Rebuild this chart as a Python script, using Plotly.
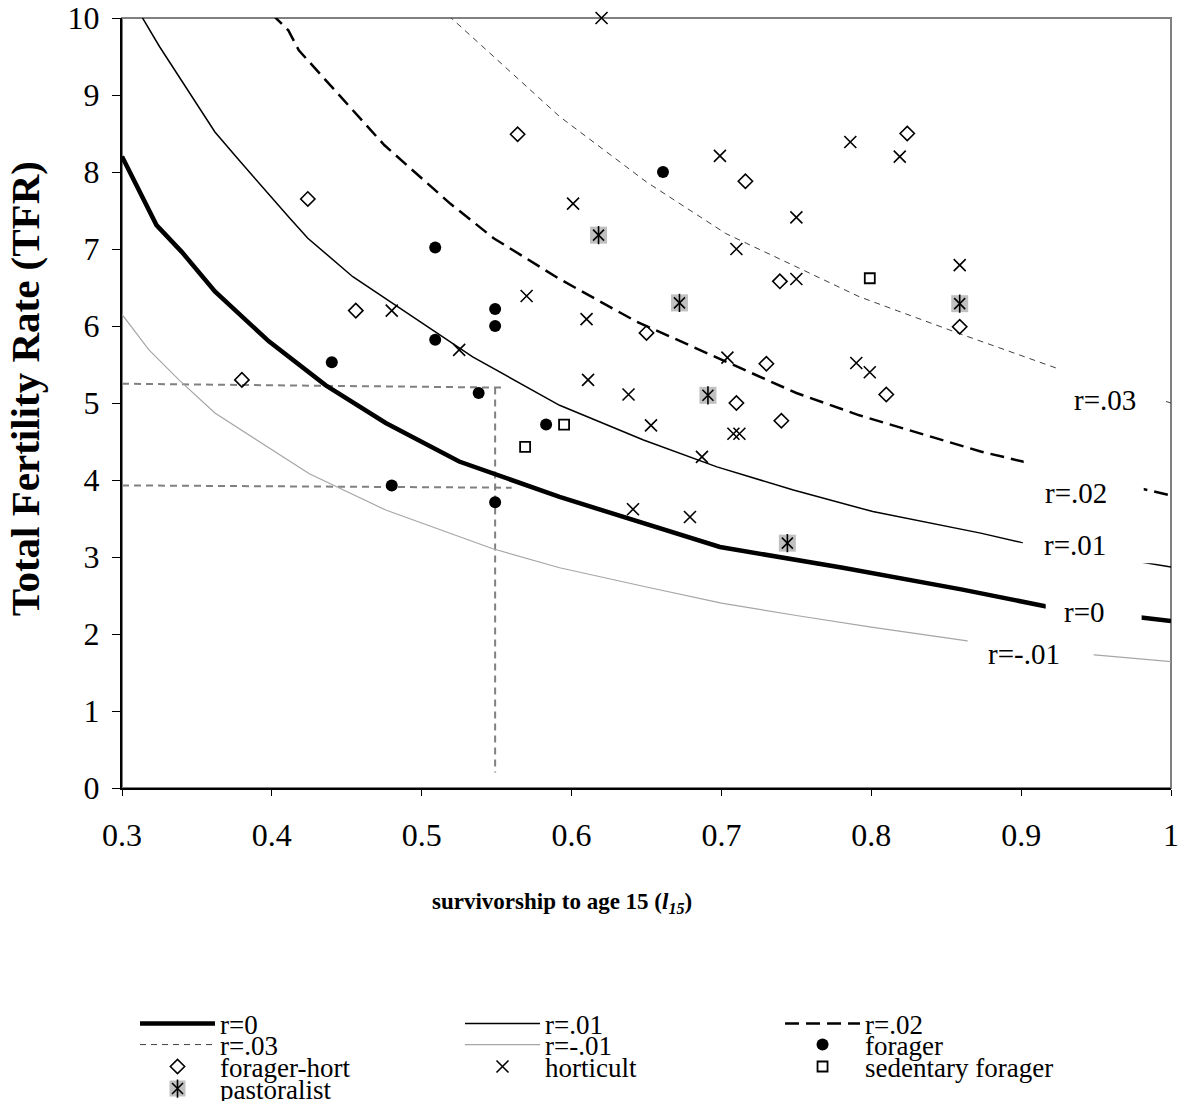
import plotly.graph_objects as go

# ---------------- data: iso-growth curves (TFR vs l15) ----------------
l15_r0 = [0.30, 0.323, 0.340, 0.362, 0.398, 0.436, 0.476, 0.525, 0.592, 0.641, 0.699, 0.781, 0.860, 0.916, 1.0]
tfr_r0 = [8.20, 7.31, 6.96, 6.45, 5.80, 5.23, 4.74, 4.24, 3.78, 3.48, 3.13, 2.86, 2.58, 2.36, 2.17]

l15_r01 = [0.30, 0.314, 0.325, 0.362, 0.376, 0.412, 0.424, 0.454, 0.534, 0.592, 0.648, 0.697, 0.748, 0.801, 0.873, 0.900, 1.0]
tfr_r01 = [10.45, 10.0, 9.63, 8.52, 8.20, 7.40, 7.14, 6.64, 5.60, 4.97, 4.52, 4.17, 3.87, 3.59, 3.31, 3.19, 2.87]

l15_r02 = [0.400, 0.411, 0.418, 0.450, 0.475, 0.519, 0.548, 0.592, 0.643, 0.697, 0.750, 0.792, 0.873, 0.901, 1.0]
tfr_r02 = [10.05, 9.84, 9.58, 8.89, 8.35, 7.59, 7.14, 6.61, 6.06, 5.59, 5.13, 4.84, 4.37, 4.24, 3.80]

l15_r03 = [0.518, 0.592, 0.650, 0.703, 0.752, 0.792, 0.859, 0.924, 1.0]
tfr_r03 = [10.03, 8.72, 7.87, 7.20, 6.75, 6.38, 5.90, 5.45, 5.00]

l15_rm01 = [0.30, 0.318, 0.338, 0.362, 0.425, 0.476, 0.547, 0.592, 0.650, 0.700, 0.750, 0.800, 0.864, 0.949, 1.0]
tfr_rm01 = [6.15, 5.69, 5.30, 4.87, 4.08, 3.61, 3.11, 2.86, 2.61, 2.40, 2.24, 2.09, 1.91, 1.73, 1.64]

# lookup (reading) lines at l15 = 0.55
guide1_x = [0.30, 0.554]
guide1_y = [5.25, 5.20]
guide2_x = [0.30, 0.560]
guide2_y = [3.93, 3.90]
guide3_x = [0.549, 0.549]
guide3_y = [5.20, 0.20]

# ---------------- data: populations ----------------
forager_x = [0.509, 0.549, 0.549, 0.509, 0.440, 0.538, 0.583, 0.480, 0.549, 0.661]
forager_y = [7.02, 6.22, 6.00, 5.82, 5.53, 5.13, 4.72, 3.93, 3.71, 8.00]

forhort_x = [0.424, 0.456, 0.380, 0.564, 0.716, 0.824, 0.739, 0.859, 0.650, 0.730, 0.810, 0.710, 0.740]
forhort_y = [7.65, 6.20, 5.30, 8.49, 7.88, 8.50, 6.58, 5.99, 5.91, 5.51, 5.11, 5.00, 4.77]

hort_x = [0.620, 0.699, 0.786, 0.819, 0.601, 0.750, 0.710, 0.750, 0.859, 0.570, 0.610, 0.704,
          0.790, 0.799, 0.611, 0.638, 0.653, 0.708, 0.712, 0.687, 0.641, 0.679, 0.480, 0.525]
hort_y = [10.0, 8.21, 8.39, 8.20, 7.59, 7.41, 7.00, 6.61, 6.79, 6.39, 6.09, 5.59,
          5.52, 5.40, 5.30, 5.11, 4.71, 4.60, 4.60, 4.30, 3.62, 3.52, 6.20, 5.69]

sedentary_x = [0.595, 0.569, 0.799]
sedentary_y = [4.72, 4.43, 6.62]

pastoral_x = [0.618, 0.672, 0.859, 0.691, 0.744]
pastoral_y = [7.18, 6.30, 6.29, 5.10, 3.18]

x_ticks = [0.3, 0.4, 0.5, 0.6, 0.7, 0.8, 0.9, 1.0]
x_ticktext = ["0.3", "0.4", "0.5", "0.6", "0.7", "0.8", "0.9", "1"]
y_ticks = [0, 1, 2, 3, 4, 5, 6, 7, 8, 9, 10]
y_ticktext = [str(v) for v in y_ticks]

curve_labels = ["r=.03", "r=.02", "r=.01", "r=0", "r=-.01"]
label_x = [0.9558, 0.9364, 0.9357, 0.9424, 0.9017]
label_y = [5.04, 3.83, 3.16, 2.29, 1.74]
# white label boxes (x0, x1, y0, y1) hiding the curves behind labels
label_box = [(0.9244, 0.9965, 4.85, 5.52),
             (0.9017, 0.9818, 3.55, 4.30),
             (0.9011, 0.9905, 2.92, 3.36),
             (0.9164, 0.9804, 2.08, 2.48),
             (0.8644, 0.9484, 1.55, 1.98)]

FONT = "Liberation Serif, Times New Roman, serif"

fig = go.Figure()

# guide lines
for gx, gy in [(guide1_x, guide1_y), (guide2_x, guide2_y), (guide3_x, guide3_y)]:
    fig.add_trace(go.Scatter(x=gx, y=gy, mode="lines", showlegend=False, hoverinfo="skip",
                             line=dict(color="#808080", width=2, dash="7px,5px")))

fig.add_trace(go.Scatter(x=l15_rm01, y=tfr_rm01, mode="lines", name="r=-.01", legend="legend5",
                         line=dict(color="#a6a6a6", width=1.2)))
fig.add_trace(go.Scatter(x=l15_r03, y=tfr_r03, mode="lines", name="r=.03", legend="legend4",
                         line=dict(color="#404040", width=1, dash="6px,5px")))
fig.add_trace(go.Scatter(x=l15_r02, y=tfr_r02, mode="lines", name="r=.02", legend="legend3",
                         line=dict(color="black", width=2.5, dash="14px,7px")))
fig.add_trace(go.Scatter(x=l15_r01, y=tfr_r01, mode="lines", name="r=.01", legend="legend2",
                         line=dict(color="black", width=1.5)))
fig.add_trace(go.Scatter(x=l15_r0, y=tfr_r0, mode="lines", name="r=0", legend="legend",
                         line=dict(color="black", width=4.5)))

fig.add_trace(go.Scatter(x=forager_x, y=forager_y, mode="markers", name="forager", legend="legend6",
                         cliponaxis=False, marker=dict(symbol="circle", size=12, color="black")))
fig.add_trace(go.Scatter(x=forhort_x, y=forhort_y, mode="markers", name="forager-hort", legend="legend7",
                         cliponaxis=False,
                         marker=dict(symbol="diamond-open", size=11, color="black", line=dict(width=1.6))))
fig.add_trace(go.Scatter(x=hort_x, y=hort_y, mode="markers", name="horticult", legend="legend8",
                         cliponaxis=False,
                         marker=dict(symbol="x-thin-open", size=12, color="black", line=dict(width=1.6))))
fig.add_trace(go.Scatter(x=sedentary_x, y=sedentary_y, mode="markers", name="sedentary forager",
                         legend="legend9", cliponaxis=False,
                         marker=dict(symbol="square-open", size=10, color="black", line=dict(width=1.8))))
fig.add_trace(go.Scatter(x=pastoral_x, y=pastoral_y, mode="markers", name="pastoralist", legend="legend10",
                         cliponaxis=False,
                         marker=dict(symbol="square", size=17, color="#c0c0c0", line=dict(width=0))))
fig.add_trace(go.Scatter(x=pastoral_x, y=pastoral_y, mode="markers", name=" ", legend="legend11",
                         cliponaxis=False,
                         marker=dict(symbol="x-thin-open", size=11, color="black", line=dict(width=1.6))))
fig.add_trace(go.Scatter(x=pastoral_x, y=pastoral_y, mode="markers", name=" ", legend="legend12",
                         cliponaxis=False,
                         marker=dict(symbol="line-ns-open", size=13, color="black", line=dict(width=1.6))))

# white boxes behind curve labels
for (x0, x1, y0, y1) in label_box:
    fig.add_shape(type="rect", xref="x", yref="y", x0=x0, x1=x1, y0=y0, y1=y1,
                  fillcolor="white", line=dict(width=0), layer="above")

for t, lx, ly in zip(curve_labels, label_x, label_y):
    fig.add_annotation(x=lx, y=ly, xref="x", yref="y", text=t, showarrow=False,
                       font=dict(family=FONT, size=29, color="black"))

# plot-area border (gray)
fig.add_shape(type="rect", xref="paper", yref="paper", x0=0, x1=1, y0=0, y1=1,
              line=dict(color="#808080", width=2), layer="below")

# axis titles
fig.add_annotation(xref="paper", yref="paper", x=0.4195, y=-0.170, showarrow=False,
                   text="<b>survivorship to age 15 (<i>l</i><sub><i>15</i></sub>)</b>",
                   font=dict(family=FONT, size=23, color="black"))
fig.add_annotation(xref="paper", yref="paper", x=-0.1163, y=0.518, showarrow=False, textangle=-90,
                   text="<b>Total Fertility Rate (TFR)</b>",
                   font=dict(family=FONT, size=41, color="black"))

fig.update_layout(
    width=1186, height=1101,
    margin=dict(l=122, r=15, t=18, b=313, autoexpand=False),
    paper_bgcolor="white", plot_bgcolor="white",
    font=dict(family=FONT, color="black", size=28),
    xaxis=dict(range=[0.3, 1.0], tickvals=x_ticks, ticktext=x_ticktext, showgrid=False, zeroline=False,
               showline=True, linecolor="black", linewidth=2, ticks="outside", ticklen=6,
               tickcolor="black", tickfont=dict(family=FONT, size=32), ticklabelstandoff=12),
    yaxis=dict(range=[0, 10], tickvals=y_ticks, ticktext=y_ticktext, showgrid=False, zeroline=False,
               showline=True, linecolor="black", linewidth=2, ticks="outside", ticklen=8,
               tickcolor="black", tickfont=dict(family=FONT, size=32), ticklabelstandoff=6),
    hovermode=False,
)

# legend cells (3 columns x 4 rows)
col_x = [0.0124, 0.3222, 0.6273]
row_y = [-0.3065, -0.3338, -0.3623, -0.3909]
cells = {
    "legend": (0, 0), "legend2": (1, 0), "legend3": (2, 0),
    "legend4": (0, 1), "legend5": (1, 1), "legend6": (2, 1),
    "legend7": (0, 2), "legend8": (1, 2), "legend9": (2, 2),
    "legend10": (0, 3), "legend11": (0, 3), "legend12": (0, 3),
}
legend_layout = {}
for key, (c, r) in cells.items():
    legend_layout[key] = dict(x=col_x[c], y=row_y[r], xanchor="left", yanchor="middle",
                              orientation="v", bgcolor="rgba(0,0,0,0)", borderwidth=0,
                              itemwidth=75, font=dict(family=FONT, size=27, color="black"),
                              itemclick=False, itemdoubleclick=False)
fig.update_layout(**legend_layout)

fig.write_html("out.html")
